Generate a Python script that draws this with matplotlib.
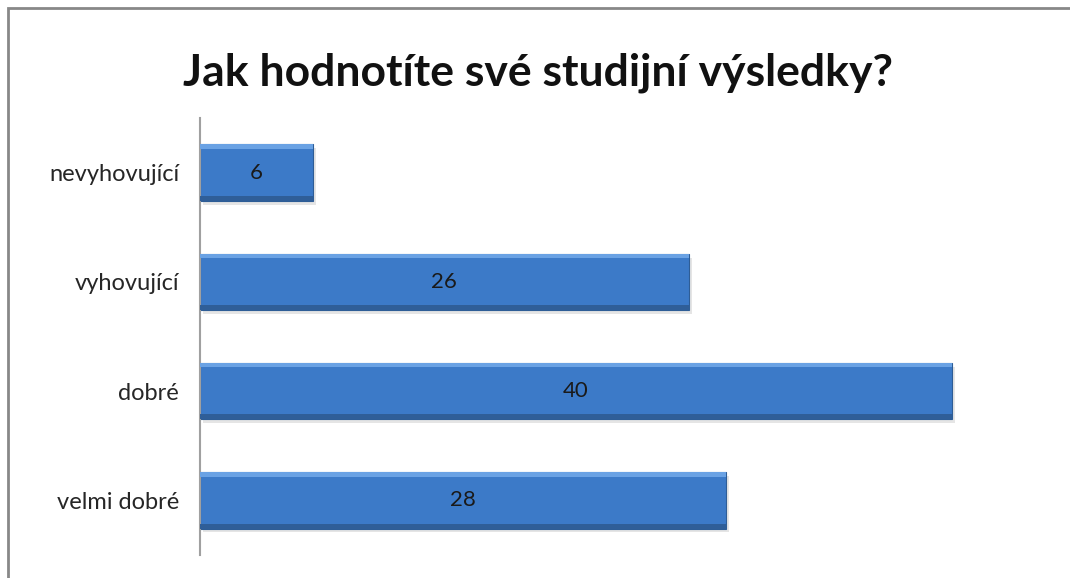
import matplotlib.pyplot as plt
from matplotlib.patches import Rectangle
import numpy as np

categories = ['nevyhovující', 'vyhovující', 'dobré', 'velmi dobré']
values = [6, 26, 40, 28]
title = 'Jak hodnotíte své studijní výsledky?'

fig = plt.figure(figsize=(10.7, 5.78), dpi=100)
fig.patches.append(Rectangle((8 / 1070, -0.01), 1.0, 1 - 8 / 578 + 0.01, transform=fig.transFigure,
                             fill=False, edgecolor='#888888', linewidth=2))

ax = fig.add_axes([200 / 1070, 1 - 555 / 578, 846 / 1070, 437 / 578])
y = np.arange(len(categories))
h = 0.515

# shadow
ax.barh(y + 0.035, values, height=h, left=0.15, color='#000000', alpha=0.10, zorder=1)
# main bar
ax.barh(y, values, height=h, color='#3c7ac8', edgecolor='#2e5d96', linewidth=0.8, zorder=2)
# bevel highlight top and dark bottom
ax.barh(y - h / 2, values, height=0.04, align='edge', color='#6aa2e4', linewidth=0, zorder=3)
ax.barh(y + h / 2 - 0.045, values, height=0.045, align='edge', color='#2f5e98', linewidth=0, zorder=3)

for yi, v in zip(y, values):
    ax.text(v / 2, yi, str(v), ha='center', va='center', fontsize=16,
            family='Lato', color='#1a1a1a', zorder=4)

ax.set_yticks(y)
ax.set_yticklabels(categories, fontsize=17, family='Lato', color='#262626')
ax.tick_params(axis='y', length=0, pad=15)
ax.set_ylim(3.5, -0.5)
ax.set_xlim(0, 45)
ax.set_xticks([])
for s in ['top', 'right', 'bottom']:
    ax.spines[s].set_visible(False)
ax.spines['left'].set_color('#a0a0a0')
ax.spines['left'].set_linewidth(1.5)

fig.text(538 / 1070, 1 - 73 / 578, title, ha='center', va='center', fontsize=32,
         fontweight='bold', family='Lato', color='#111111')

fig.savefig('out.png', dpi=100)
